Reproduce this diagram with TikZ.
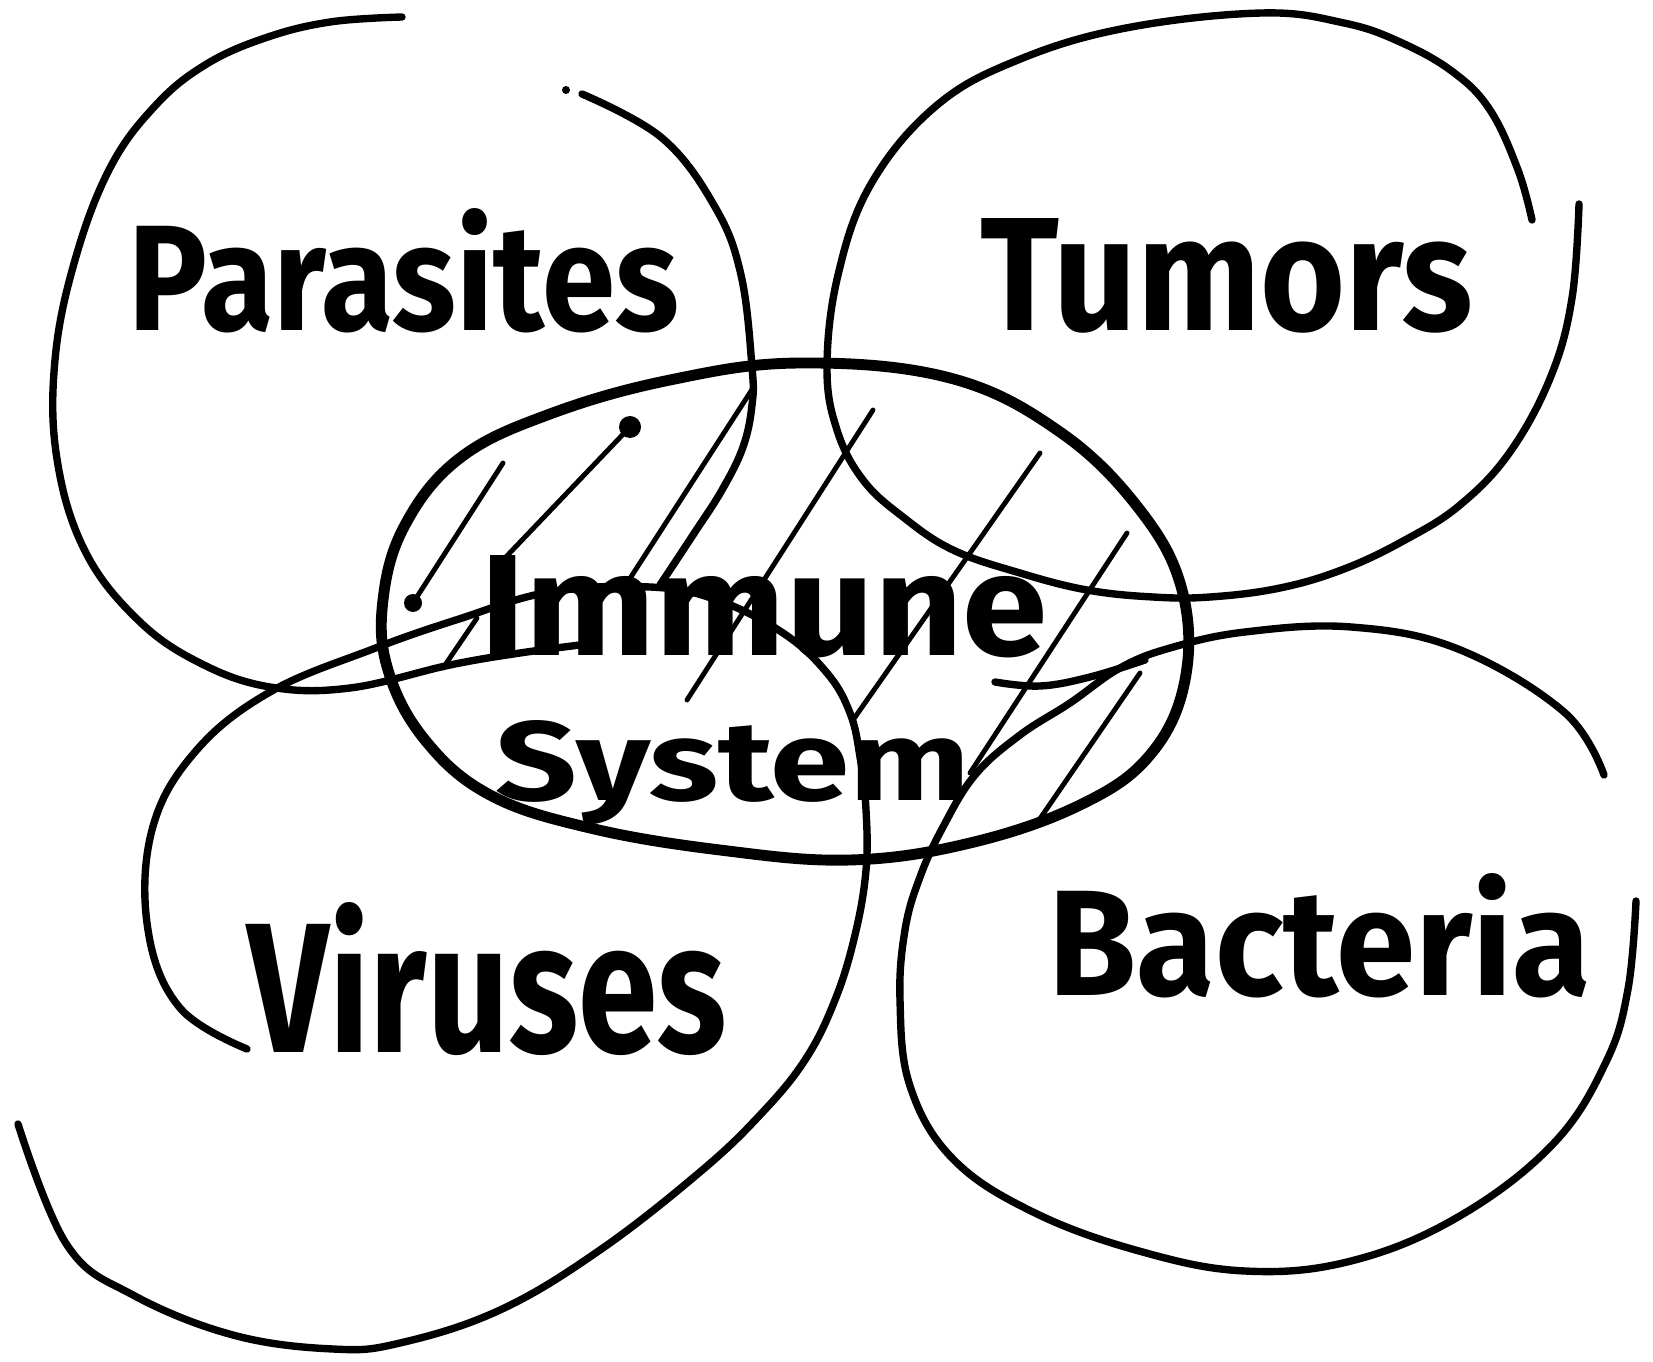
\documentclass[tikz,border=0pt]{standalone}
\usepackage{fontspec}
\setmainfont{Fira Sans}
\usepackage{graphicx}
\begin{document}
\begin{tikzpicture}[x=0.1mm,y=-0.1mm, line cap=round, line join=round,
  loopline/.style={line width=2.1pt},
  ring/.style={line width=3.1pt},
  hatch/.style={line width=1.4pt},
  lbl/.style={inner sep=0pt, anchor=base west, font=\bfseries}]
\useasboundingbox (0,0) rectangle (1653,1362);

% Parasites loop
\draw[loopline] plot[smooth, tension=0.65] coordinates {(402,17) (330,22) (265,38) (205,65) (155,106) (110,168) (75,260) (55,360) (57,459) (85,551) (138,620) (200,663) (270,687) (350,688) (450,665) (520,653) (580,645)};
\draw[loopline] plot[smooth, tension=0.65] coordinates {(582,94) (662,138) (715,207) (741,275) (752,367) (752,405) (743,447) (722,490) (693,535) (660,585)};
\fill (566,90) circle (4);

% Tumors loop
\draw[loopline] plot[smooth, tension=0.65] coordinates {(1532,220) (1518,170) (1490,110) (1453,72) (1400,42) (1344,23) (1262,13) (1126,28) (1018,60) (936,106) (871,184) (838,275) (827,367) (837,430) (863,480) (903,517) (953,550) (1020,573) (1087,590) (1153,597) (1210,597) (1280,588) (1344,569) (1405,540) (1460,505) (1510,452) (1551,376) (1572,298) (1579,204)};

% Viruses loop
\draw[loopline] plot[smooth, tension=0.65] coordinates {(247,1049) (180,1008) (148,930) (152,830) (195,752) (270,692) (373,649) (459,619) (550,592) (650,587) (717,600) (783,633) (827,673) (850,713) (860,757) (866,810) (866,870) (855,935) (835,1000) (805,1060) (760,1115) (700,1172) (600,1250) (500,1310) (400,1343) (333,1349) (233,1335) (133,1295) (67,1245) (18,1124)};

% Bacteria loop
\draw[loopline] plot[smooth, tension=0.65] coordinates {(1604,775) (1564,712) (1458,649) (1351,627) (1245,632) (1170,648) (1120,668) (1070,703) (1020,735) (975,775) (943,827) (920,877) (905,930) (900,1000) (910,1086) (953,1159) (1033,1212) (1139,1251) (1245,1271) (1351,1261) (1458,1217) (1553,1144) (1606,1062) (1628,989) (1636,901)};
\draw[loopline] plot[smooth, tension=0.65] coordinates {(995,682) (1040,686) (1090,677) (1145,660)};

% Immune system ring
\draw[ring] plot[smooth cycle, tension=0.65] coordinates {(800,363) (950,378) (1060,432) (1140,510) (1182,590) (1185,680) (1150,755) (1080,805) (970,843) (850,860) (720,850) (590,828) (490,795) (425,740) (388,670) (383,600) (405,525) (460,458) (550,414) (670,380)};

% hatching
\draw[hatch] (630,427) -- (503,560);
\fill (630,427) circle (11);
\draw[hatch] (503,463) -- (413,603);
\fill (413,603) circle (9);
\draw[hatch] (477,618) -- (443,668);
\draw[hatch] (753,388) -- (627,583);
\draw[hatch] (873,410) -- (687,700);
\draw[hatch] (1040,453) -- (853,720);
\draw[hatch] (1127,533) -- (970,773);
\draw[hatch] (1140,673) -- (1037,823);

% labels
\node[lbl] (parasites) at (128,331) {\resizebox{5.5cm}{1.22cm}{Parasites}};
\node[lbl] (tumors) at (980,331) {\resizebox{4.92cm}{1.12cm}{Tumors}};
\node[lbl] (viruses) at (247,1052) {\resizebox{4.79cm}{1.5cm}{Viruses}};
\node[lbl] (bacteria) at (1048,995) {\resizebox{5.42cm}{1.22cm}{Bacteria}};
\node[lbl] (immune) at (480,655) {\resizebox{5.67cm}{1.0cm}{Immune}};
\node[lbl] (system) at (495,800) {\resizebox{4.75cm}{0.8cm}{System}};
\end{tikzpicture}
\end{document}
